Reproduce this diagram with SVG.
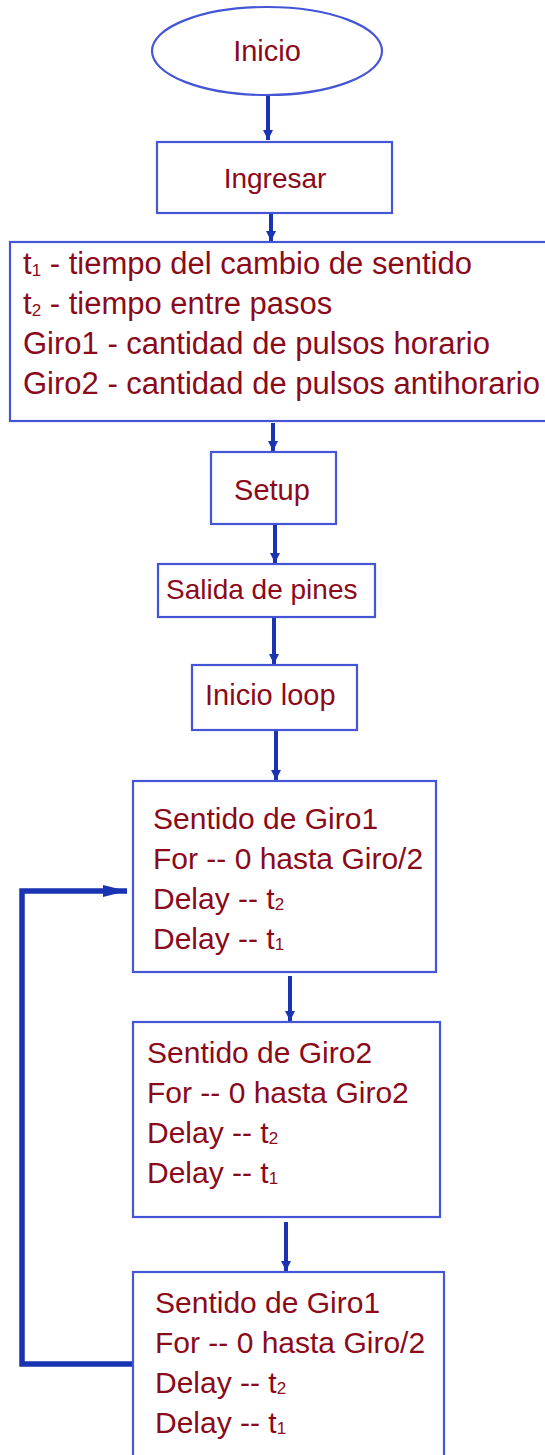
<svg xmlns="http://www.w3.org/2000/svg" width="545" height="1455" viewBox="0 0 545 1455">
<style>
.box{fill:#fff;stroke:#4455d6;stroke-width:2.2}
.t{font-family:"Liberation Sans",Arial,sans-serif;font-size:30px;fill:#8b0a1a}
.sub{font-size:17px}
.c{stroke:#1a33b3;stroke-width:4;fill:none}
.loop{stroke:#1a33b3;stroke-width:5.5;fill:none}
</style>
<defs>
<marker id="ah" markerUnits="userSpaceOnUse" markerWidth="12" markerHeight="12" refX="10" refY="6" orient="auto">
<path d="M0,1 L10,6 L0,11 Z" fill="#1a33b3"/>
</marker>
<marker id="ah2" markerUnits="userSpaceOnUse" markerWidth="26" markerHeight="14" refX="24" refY="7" orient="auto">
<path d="M0,1 L24,7 L0,13 Z" fill="#1a33b3"/>
</marker>
</defs>
<g id="connectors">
<line class="c" x1="268" y1="95" x2="268" y2="140" marker-end="url(#ah)"/>
<line class="c" x1="271" y1="214" x2="271" y2="241" marker-end="url(#ah)"/>
<line class="c" x1="273" y1="423" x2="273" y2="451" marker-end="url(#ah)"/>
<line class="c" x1="275" y1="525" x2="275" y2="563" marker-end="url(#ah)"/>
<line class="c" x1="274" y1="618" x2="274" y2="664" marker-end="url(#ah)"/>
<line class="c" x1="276" y1="731" x2="276" y2="780" marker-end="url(#ah)"/>
<line class="c" x1="290" y1="976" x2="290" y2="1021" marker-end="url(#ah)"/>
<line class="c" x1="286" y1="1222" x2="286" y2="1271" marker-end="url(#ah)"/>
<path class="loop" d="M133,1364 H22 V891 H127" marker-end="url(#ah2)"/>
</g>
<g id="n-inicio">
<ellipse class="box" cx="267" cy="51" rx="115" ry="44"/>
<text class="t" x="267" y="61" text-anchor="middle" style="font-size:29px">Inicio</text>
</g>
<g id="n-ingresar">
<rect class="box" x="157" y="142" width="235" height="71"/>
<text class="t" x="275" y="188" text-anchor="middle" style="font-size:28px">Ingresar</text>
</g>
<g id="n-datos">
<rect class="box" x="10" y="242" width="560" height="179"/>
<text class="t" x="23" y="274" style="font-size:31px">t<tspan class="sub" dy="2">1</tspan><tspan dy="-2"> - tiempo del cambio de sentido</tspan></text>
<text class="t" x="23" y="314" style="font-size:31px">t<tspan class="sub" dy="2">2</tspan><tspan dy="-2"> - tiempo entre pasos</tspan></text>
<text class="t" x="23" y="354" style="font-size:31px">Giro1 - cantidad de pulsos horario</text>
<text class="t" x="23" y="394" style="font-size:31px">Giro2 - cantidad de pulsos antihorario</text>
</g>
<g id="n-setup">
<rect class="box" x="211" y="452" width="125" height="72"/>
<text class="t" x="272" y="500" text-anchor="middle" style="font-size:29px">Setup</text>
</g>
<g id="n-salida">
<rect class="box" x="158" y="564" width="217" height="53"/>
<text class="t" x="166" y="599" style="font-size:28px">Salida de pines</text>
</g>
<g id="n-loop">
<rect class="box" x="192" y="665" width="165" height="65"/>
<text class="t" x="205" y="705" style="font-size:29px">Inicio loop</text>
</g>
<g id="n-giro1a">
<rect class="box" x="133" y="781" width="303" height="191"/>
<text class="t" x="153" y="829">Sentido de Giro1</text>
<text class="t" x="153" y="869">For -- 0 hasta Giro/2</text>
<text class="t" x="153" y="909">Delay -- t<tspan class="sub" dy="1">2</tspan></text>
<text class="t" x="153" y="949">Delay -- t<tspan class="sub" dy="1">1</tspan></text>
</g>
<g id="n-giro2">
<rect class="box" x="133" y="1022" width="307" height="195"/>
<text class="t" x="147" y="1063">Sentido de Giro2</text>
<text class="t" x="147" y="1103">For -- 0 hasta Giro2</text>
<text class="t" x="147" y="1143">Delay -- t<tspan class="sub" dy="1">2</tspan></text>
<text class="t" x="147" y="1183">Delay -- t<tspan class="sub" dy="1">1</tspan></text>
</g>
<g id="n-giro1b">
<rect class="box" x="133" y="1272" width="311" height="200"/>
<text class="t" x="155" y="1313">Sentido de Giro1</text>
<text class="t" x="155" y="1353">For -- 0 hasta Giro/2</text>
<text class="t" x="155" y="1393">Delay -- t<tspan class="sub" dy="1">2</tspan></text>
<text class="t" x="155" y="1433">Delay -- t<tspan class="sub" dy="1">1</tspan></text>
</g>
</svg>
